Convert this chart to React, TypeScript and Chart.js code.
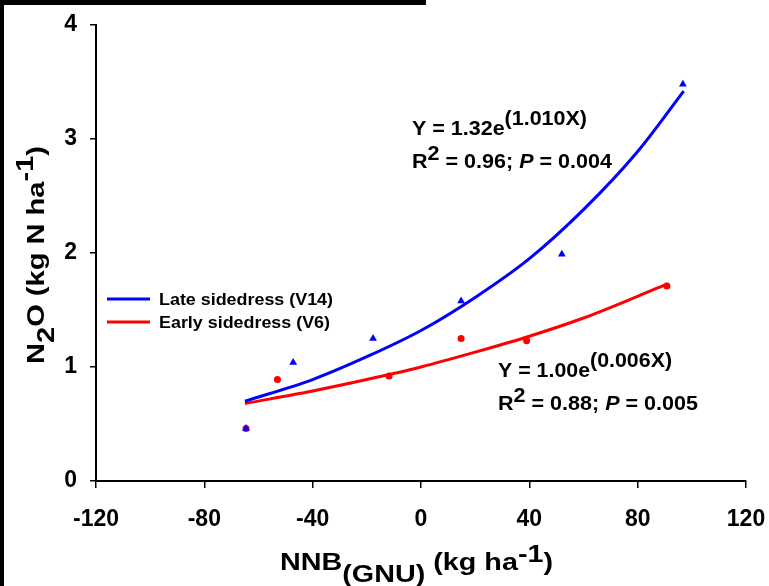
import React, { useEffect, useRef } from 'react';
import { Chart, registerables } from 'chart.js';

Chart.register(...registerables);

const lateX = [-64.6, -47.2, -17.7, 14.8, 52.0, 96.7];
const lateY = [0.46, 1.04, 1.25, 1.58, 1.99, 3.48];
const earlyX = [-64.6, -53.0, -11.8, 14.8, 39.0, 90.8];
const earlyY = [0.46, 0.89, 0.92, 1.25, 1.23, 1.71];

// Fitted curves
const lateFitX = [-65, -40, -20, 0, 20, 40, 60, 80, 97];
const lateFitY = [0.70, 0.89, 1.09, 1.32, 1.61, 1.95, 2.38, 2.89, 3.42];
const earlyFitX = [-65, -40, -20, 0, 20, 40, 60, 80, 91];
const earlyFitY = [0.68, 0.79, 0.89, 1.0, 1.13, 1.27, 1.43, 1.62, 1.73];

const xTicks = [-120, -80, -40, 0, 40, 80, 120];
const yTicks = [0, 1, 2, 3, 4];

const legendLabels = ['Late sidedress (V14)', 'Early sidedress (V6)'];
const lateEq = ['Y = 1.32e', '(1.010X)'];
const lateStat = ['0.96', '0.004'];
const earlyEq = ['Y = 1.00e', '(0.006X)'];
const earlyStat = ['0.88', '0.005'];

const BLUE = '#0000FF';
const RED = '#FF0000';
const FONT = '"Liberation Sans", Arial, Helvetica, sans-serif';

type Part = { t: string; dy?: number; italic?: boolean };

function drawRich(
  ctx: CanvasRenderingContext2D,
  parts: Part[],
  x: number,
  y: number,
  size: number,
  target?: number,
  rotate?: number
) {
  ctx.save();
  ctx.translate(x, y);
  if (rotate) ctx.rotate(rotate);
  const fontFor = (p: Part) => `${p.italic ? 'italic ' : ''}bold ${size}px ${FONT}`;
  let w = 0;
  for (const p of parts) {
    ctx.font = fontFor(p);
    w += ctx.measureText(p.t).width;
  }
  const sx = target ? target / w : 1;
  ctx.scale(sx, 1);
  ctx.fillStyle = '#000';
  ctx.textBaseline = 'alphabetic';
  ctx.textAlign = 'left';
  let cx = 0;
  for (const p of parts) {
    ctx.font = fontFor(p);
    ctx.fillText(p.t, cx, p.dy || 0);
    cx += ctx.measureText(p.t).width;
  }
  ctx.restore();
}

const decorPlugin = {
  id: 'decor',
  beforeDraw(chart: any) {
    const ctx = chart.ctx as CanvasRenderingContext2D;
    ctx.save();
    ctx.fillStyle = '#fff';
    ctx.fillRect(0, 0, chart.width, chart.height);
    ctx.fillStyle = '#000';
    ctx.fillRect(0, 0, 426, 5);
    ctx.fillRect(0, 0, 4, chart.height);
    ctx.restore();
  },
  afterDraw(chart: any) {
    const ctx = chart.ctx as CanvasRenderingContext2D;
    // Legend
    const colors = [BLUE, RED];
    const rows = [299, 322];
    ctx.save();
    for (let i = 0; i < 2; i++) {
      ctx.strokeStyle = colors[i];
      ctx.lineWidth = 3;
      ctx.beginPath();
      ctx.moveTo(107, rows[i]);
      ctx.lineTo(150, rows[i]);
      ctx.stroke();
    }
    ctx.restore();
    drawRich(ctx, [{ t: legendLabels[0] }], 159, rows[0] + 6, 17, 174);
    drawRich(ctx, [{ t: legendLabels[1] }], 159, rows[1] + 6, 17, 171);

    // Equations
    drawRich(ctx, [{ t: lateEq[0] }, { t: lateEq[1], dy: -10 }], 412, 135, 21, 175);
    drawRich(
      ctx,
      [{ t: 'R' }, { t: '2', dy: -8 }, { t: ' = ' + lateStat[0] + '; ' }, { t: 'P', italic: true }, { t: ' = ' + lateStat[1] }],
      412,
      168,
      21,
      200
    );
    drawRich(ctx, [{ t: earlyEq[0] }, { t: earlyEq[1], dy: -10 }], 498, 377, 21, 174);
    drawRich(
      ctx,
      [{ t: 'R' }, { t: '2', dy: -8 }, { t: ' = ' + earlyStat[0] + '; ' }, { t: 'P', italic: true }, { t: ' = ' + earlyStat[1] }],
      498,
      410,
      21,
      200
    );

    // Axis titles
    drawRich(
      ctx,
      [{ t: 'NNB' }, { t: '(GNU)', dy: 12 }, { t: ' (kg ha' }, { t: '-1', dy: -8 }, { t: ')' }],
      280,
      570,
      24,
      273
    );
    drawRich(
      ctx,
      [{ t: 'N' }, { t: '2', dy: 10 }, { t: 'O (kg N ha' }, { t: '-1', dy: -11 }, { t: ')' }],
      44,
      364,
      24,
      218,
      -Math.PI / 2
    );
  },
};

export default function App() {
  const ref = useRef<HTMLCanvasElement | null>(null);

  useEffect(() => {
    if (!ref.current) return;
    const chart = new Chart(ref.current, {
      type: 'scatter',
      data: {
        datasets: [
          {
            label: 'Late points',
            data: lateX.map((x, i) => ({ x, y: lateY[i] })),
            pointStyle: 'triangle',
            pointRadius: 4.5,
            backgroundColor: BLUE,
            borderColor: BLUE,
            borderWidth: 0,
            showLine: false,
            order: 0,
          },
          {
            label: 'Early points',
            data: earlyX.map((x, i) => ({ x, y: earlyY[i] })),
            pointStyle: 'circle',
            pointRadius: 3.5,
            backgroundColor: RED,
            borderColor: RED,
            borderWidth: 0,
            showLine: false,
            order: 1,
          },
          {
            label: legendLabels[0],
            data: lateFitX.map((x, i) => ({ x, y: lateFitY[i] })),
            showLine: true,
            borderColor: BLUE,
            borderWidth: 3,
            pointRadius: 0,
            cubicInterpolationMode: 'monotone',
            order: 2,
          } as any,
          {
            label: legendLabels[1],
            data: earlyFitX.map((x, i) => ({ x, y: earlyFitY[i] })),
            showLine: true,
            borderColor: RED,
            borderWidth: 3,
            pointRadius: 0,
            cubicInterpolationMode: 'monotone',
            order: 3,
          } as any,
        ],
      },
      options: {
        animation: false,
        responsive: false,
        maintainAspectRatio: false,
        layout: { padding: { top: 25, right: 23, left: 0, bottom: 0 } },
        plugins: { legend: { display: false }, tooltip: { enabled: false } },
        scales: {
          x: {
            type: 'linear',
            min: -120,
            max: 120,
            afterBuildTicks: (s: any) => {
              s.ticks = xTicks.map((v) => ({ value: v }));
            },
            afterFit: (s: any) => {
              s.height = 105;
              s.paddingLeft = 0;
              s.paddingRight = 0;
            },
            ticks: {
              color: '#000',
              padding: 18,
              font: { family: FONT, size: 23, weight: 'bold' },
              maxRotation: 0,
            },
            grid: { drawOnChartArea: false, drawTicks: true, tickLength: 7, color: '#000', lineWidth: 1.5 },
            border: { display: true, color: '#000', width: 2 },
          },
          y: {
            type: 'linear',
            min: 0,
            max: 4,
            afterBuildTicks: (s: any) => {
              s.ticks = yTicks.map((v) => ({ value: v }));
            },
            afterFit: (s: any) => {
              s.width = 96;
              s.paddingTop = 0;
              s.paddingBottom = 0;
            },
            ticks: {
              color: '#000',
              padding: 13,
              font: { family: FONT, size: 23, weight: 'bold' },
            },
            grid: { drawOnChartArea: false, drawTicks: true, tickLength: 6, color: '#000', lineWidth: 1.5 },
            border: { display: true, color: '#000', width: 2 },
          },
        },
      } as any,
      plugins: [decorPlugin],
    });
    return () => chart.destroy();
  }, []);

  return (
    <div style={{ position: 'fixed', left: 0, top: 0, width: 769, height: 586, background: '#fff' }}>
      <canvas ref={ref} width={769} height={586} style={{ width: 769, height: 586, display: 'block' }} />
    </div>
  );
}
